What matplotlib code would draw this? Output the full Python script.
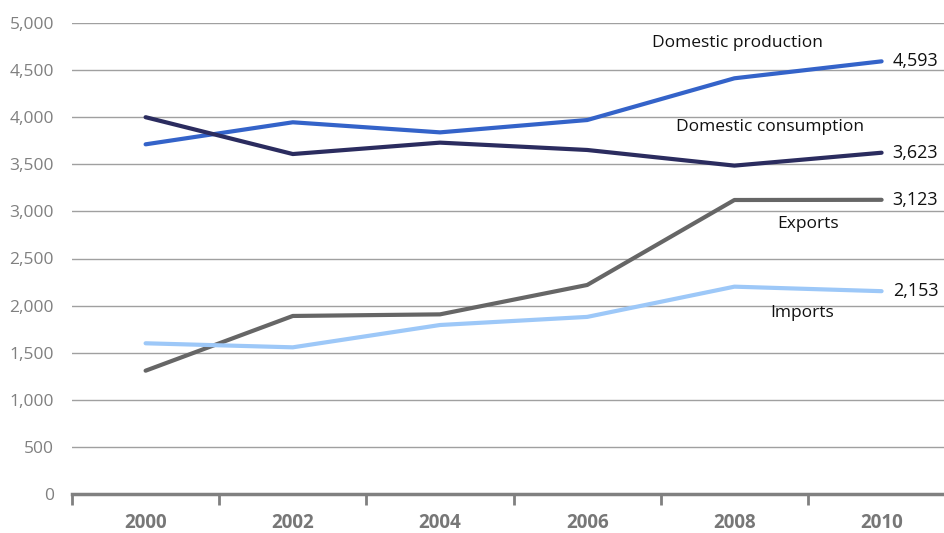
import matplotlib
matplotlib.use("Agg")
import matplotlib.pyplot as plt
import numpy as np

years = ["2000", "2002", "2004", "2006", "2008", "2010"]
production = [3712, 3946, 3839, 3970, 4413, 4593]
consumption = [4000, 3609, 3730, 3652, 3486, 3623]
exports = [1309, 1890, 1907, 2219, 3121, 3123]
imports = [1600, 1557, 1794, 1880, 2201, 2153]
names = ["Domestic production", "Domestic consumption", "Exports", "Imports"]
yticks = [0, 500, 1000, 1500, 2000, 2500, 3000, 3500, 4000, 4500, 5000]

colors = ["#3463c9", "#2b2c5f", "#666666", "#9dc8f8"]
series = [production, consumption, exports, imports]
name_pos = [(4.02, 4790), (4.24, 3895), (4.50, 2865), (4.46, 1920)]

plt.rcParams['font.family'] = ['Open Sans', 'DejaVu Sans']

fig = plt.figure(figsize=(9.44, 5.33), dpi=100)
W, H = 944, 533
left, bottom = 72 / W, 39 / H
width = 6 * 147.2 / W
height = (494 - 23) / H
ax = fig.add_axes([left, bottom, width, height])

x = np.arange(len(years))
for s, c in zip(series, colors):
    ax.plot(x, s, color=c, lw=3, solid_capstyle='round', zorder=3)
    ax.annotate(f"{s[-1]:,}", xy=(x[-1], s[-1]), xytext=(8, 0),
                textcoords='offset points', va='center', ha='left',
                fontsize=13, color='#111111')

for n, (px, py) in zip(names, name_pos):
    ax.text(px, py, n, ha='center', va='center', fontsize=12.5, color='#111111')

ax.set_xlim(-0.5, 5.5)
ax.set_ylim(0, 5000)
ax.set_yticks(yticks)
ax.set_yticklabels([f"{v:,}" for v in yticks])
ax.set_xticks(x)
ax.set_xticklabels(years, fontweight='bold')
ax.set_xticks(np.arange(-0.5, 6.0, 1.0), minor=True)

ax.grid(axis='y', color='#a0a0a0', lw=1)
ax.set_axisbelow(True)
for sp in ['top', 'right', 'left']:
    ax.spines[sp].set_visible(False)
ax.spines['bottom'].set_color('#808080')
ax.spines['bottom'].set_linewidth(2.5)
ax.tick_params(axis='y', length=0, pad=13, labelsize=12.5, labelcolor='#808080')
ax.tick_params(axis='x', which='major', length=0, pad=14, labelsize=13.5, labelcolor='#777777')
ax.tick_params(axis='x', which='minor', length=8, width=2, color='#808080', direction='out')

fig.savefig("out.png", dpi=100)
